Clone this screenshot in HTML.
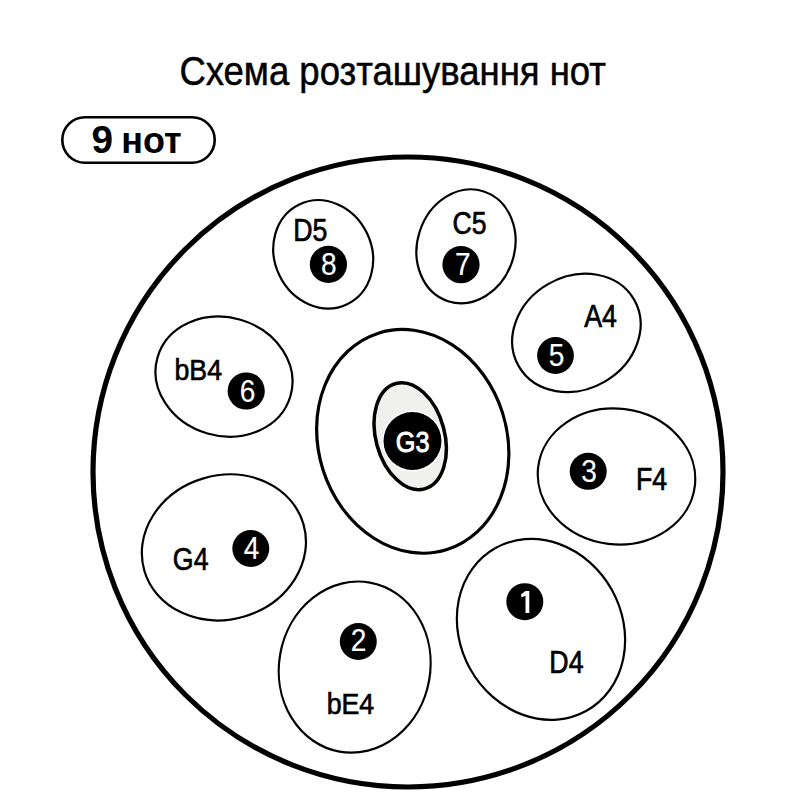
<!DOCTYPE html>
<html><head><meta charset="utf-8"><style>
html,body{margin:0;padding:0;background:#fff;width:800px;height:800px;overflow:hidden}
svg{display:block}
text{font-family:"Liberation Sans",sans-serif}
.lab{font-size:31px;fill:#000}
.dg{font-size:31px;fill:#fff}
.g3{font-size:30px;fill:#fff}
.title{font-size:40px;fill:#000}
.pill{font-size:39px;font-weight:bold;fill:#000}
</style></head><body>
<svg width="800" height="800" viewBox="0 0 800 800">
<text transform="matrix(0.9123 0 0 0.9932 179.40 85.03)" class="title" stroke="#000" stroke-width="0.5">Схема розташування нот</text>
<rect x="62.3" y="117.3" width="152.4" height="45.4" rx="22.7" fill="none" stroke="#000" stroke-width="2.6"/>
<text transform="matrix(0.9934 0 0 1.0081 91.38 153.22)" class="pill">9</text>
<text transform="matrix(0.9225 0 0 0.9544 121.21 153.04)" class="pill">нот</text>
<circle cx="408" cy="472" r="315" fill="none" stroke="#000" stroke-width="5.2"/>
<ellipse cx="323.2" cy="254.3" rx="48.6" ry="55.3" transform="rotate(-25.6 323.2 254.3)" fill="none" stroke="#000" stroke-width="2.2"/>
<ellipse cx="466.0" cy="246.3" rx="48.6" ry="57.7" transform="rotate(18.0 466.0 246.3)" fill="none" stroke="#000" stroke-width="2.2"/>
<ellipse cx="576.4" cy="332.9" rx="66.6" ry="56.4" transform="rotate(-30.2 576.4 332.9)" fill="none" stroke="#000" stroke-width="2.2"/>
<ellipse cx="224.0" cy="376.65" rx="69.2" ry="59.2" transform="rotate(16.2 224.0 376.65)" fill="none" stroke="#000" stroke-width="2.2"/>
<ellipse cx="616.5" cy="476.5" rx="78.9" ry="67.8" transform="rotate(7.0 616.5 476.5)" fill="none" stroke="#000" stroke-width="2.2"/>
<ellipse cx="223.9" cy="547.4" rx="82.9" ry="72.0" transform="rotate(-16.5 223.9 547.4)" fill="none" stroke="#000" stroke-width="2.2"/>
<ellipse cx="354.7" cy="667.1" rx="75.6" ry="85.9" transform="rotate(10.2 354.7 667.1)" fill="none" stroke="#000" stroke-width="2.2"/>
<ellipse cx="541.0" cy="629.4" rx="81.1" ry="93.2" transform="rotate(-29.2 541.0 629.4)" fill="none" stroke="#000" stroke-width="2.2"/>
<text transform="matrix(0.8620 0 0 0.9900 293.26 240.88)" class="lab" stroke="#000" stroke-width="0.7">D5</text>
<text transform="matrix(0.8620 0 0 0.9900 452.51 234.09)" class="lab" stroke="#000" stroke-width="0.7">C5</text>
<text transform="matrix(0.8620 0 0 0.9900 584.23 327.48)" class="lab" stroke="#000" stroke-width="0.7">A4</text>
<text transform="matrix(0.8620 0 0 0.9600 174.51 380.12)" class="lab" stroke="#000" stroke-width="0.7">bB4</text>
<text transform="matrix(0.8620 0 0 0.9900 636.03 489.68)" class="lab" stroke="#000" stroke-width="0.7">F4</text>
<text transform="matrix(0.8620 0 0 0.9900 172.85 570.14)" class="lab" stroke="#000" stroke-width="0.7">G4</text>
<text transform="matrix(0.8620 0 0 0.9600 326.68 713.62)" class="lab" stroke="#000" stroke-width="0.7">bE4</text>
<text transform="matrix(0.8620 0 0 0.9900 549.35 672.73)" class="lab" stroke="#000" stroke-width="0.7">D4</text>
<circle cx="328.4" cy="264.4" r="18.6" fill="#000"/>
<circle cx="461" cy="264.7" r="18.6" fill="#000"/>
<circle cx="555.5" cy="355.5" r="18.4" fill="#000"/>
<circle cx="246.2" cy="391" r="18.6" fill="#000"/>
<circle cx="588.2" cy="471.3" r="18.5" fill="#000"/>
<circle cx="250.8" cy="548.5" r="18.5" fill="#000"/>
<circle cx="358.3" cy="641.5" r="18.5" fill="#000"/>
<circle cx="524.8" cy="601.7" r="18.5" fill="#000"/>
<text transform="matrix(0.9060 0 0 0.9930 320.94 275.24)" class="dg" stroke="#fff" stroke-width="0.15">8</text>
<text transform="matrix(0.9060 0 0 0.9930 455.06 275.35)" class="dg" stroke="#fff" stroke-width="0.15">7</text>
<text transform="matrix(0.9060 0 0 0.9930 548.79 365.88)" class="dg" stroke="#fff" stroke-width="0.15">5</text>
<text transform="matrix(0.9060 0 0 0.9930 239.65 402.47)" class="dg" stroke="#fff" stroke-width="0.15">6</text>
<text transform="matrix(0.9060 0 0 0.9930 581.34 481.85)" class="dg" stroke="#fff" stroke-width="0.15">3</text>
<text transform="matrix(0.9060 0 0 0.9930 243.80 559.32)" class="dg" stroke="#fff" stroke-width="0.15">4</text>
<text transform="matrix(0.9060 0 0 0.9930 350.79 651.40)" class="dg" stroke="#fff" stroke-width="0.15">2</text>
<path d="M525.5 590.9 L529.3 590.9 L529.3 612.9 L525.5 612.9 L525.5 595.6 L521.7 597.6 L520.9 594.5 Z" fill="#fff"/>
<ellipse cx="412.75" cy="441.35" rx="94.2" ry="113.5" transform="rotate(-17.6 412.75 441.35)" fill="none" stroke="#000" stroke-width="3.2"/>
<ellipse cx="410.2" cy="436.2" rx="34.4" ry="54.6" transform="rotate(-15.2 410.2 436.2)" fill="#f0f0ee" stroke="#000" stroke-width="3.5"/>
<circle cx="412.5" cy="441" r="30.5" fill="#fff"/>
<circle cx="412.5" cy="441" r="29" fill="#000"/>
<text transform="matrix(0.8447 0 0 0.9614 395.70 452.05)" class="g3" stroke="#fff" stroke-width="0.9">G3</text>
</svg>
</body></html>
